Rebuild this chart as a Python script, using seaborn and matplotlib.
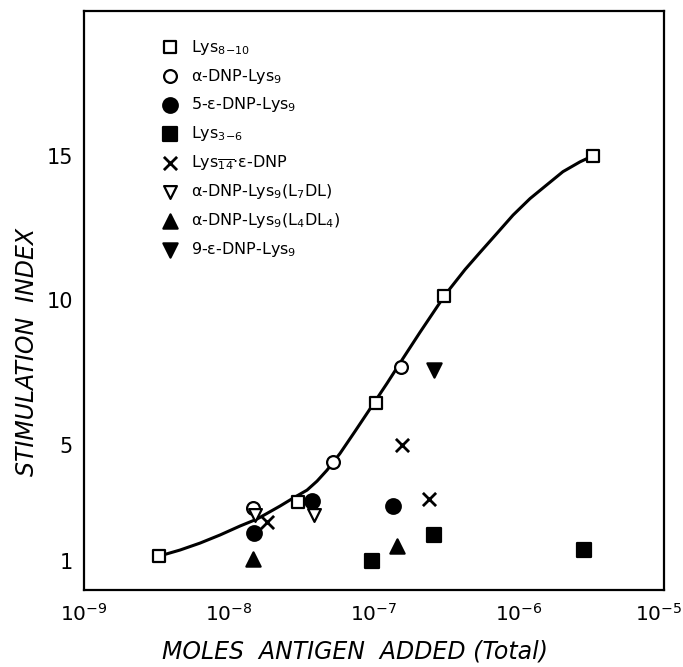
import matplotlib
matplotlib.use("Agg")
import matplotlib.pyplot as plt
import matplotlib.transforms as mtransforms
import seaborn as sns
from matplotlib.ticker import FixedLocator, NullLocator, FixedFormatter

# ---- data ----
lys810_x = [3.29e-9, 2.99e-8, 1.03e-7, 3.04e-7, 3.24e-6]
lys810_y = [1.17, 3.03, 6.45, 10.14, 15.0]

adnp_x = [1.47e-8, 5.2e-8, 1.53e-7]
adnp_y = [2.83, 4.41, 7.69]

e5dnp_x = [1.48e-8, 3.73e-8, 1.35e-7]
e5dnp_y = [1.97, 3.07, 2.90]

lys36_x = [9.7e-8, 2.6e-7, 2.81e-6]
lys36_y = [1.0, 1.90, 1.38]

lys14_x = [1.83e-8, 1.56e-7, 2.39e-7]
lys14_y = [2.34, 5.0, 3.14]

l7dl_x = [1.51e-8, 3.85e-8]
l7dl_y = [2.59, 2.59]

l4dl4_x = [1.47e-8, 1.44e-7]
l4dl4_y = [1.07, 1.52]

e9dnp_x = [2.6e-7]
e9dnp_y = [7.59]

# hand-drawn curve, points traced along it (log10 of moles, index)
curve_logx = [-8.483, -8.338, -8.200, -8.062, -7.924, -7.807, -7.648, -7.559,
              -7.462, -7.393, -7.324, -7.234, -7.131, -7.007, -6.910, -6.800,
              -6.683, -6.545, -6.476, -6.372, -6.269, -6.152, -6.041, -5.924,
              -5.807, -5.697, -5.579, -5.490]
curve_y = [1.17, 1.38, 1.62, 1.90, 2.21, 2.45, 2.90, 3.17, 3.45, 3.76, 4.14,
           4.72, 5.48, 6.41, 7.14, 8.00, 8.90, 9.93, 10.41, 11.07, 11.66,
           12.32, 12.95, 13.52, 14.00, 14.45, 14.79, 15.0]

xtick_vals = [1e-9, 1e-8, 1e-7, 1e-6, 1e-5]
xtick_labels = [r"$10^{-9}$", r"$10^{-8}$", r"$10^{-7}$", r"$10^{-6}$", r"$10^{-5}$"]
ytick_vals = [1, 5, 10, 15]
ytick_labels = ["1", "5", "10", "15"]

labels = [r"Lys$_{8\mathrm{-}10}$", r"$\alpha$-DNP-Lys$_9$", r"5-$\epsilon$-DNP-Lys$_9$",
          r"Lys$_{3\mathrm{-}6}$", r"Lys$_{\overline{14}}$$\cdot\epsilon$-DNP",
          r"$\alpha$-DNP-Lys$_9$(L$_7$DL)", r"$\alpha$-DNP-Lys$_9$(L$_4$DL$_4$)",
          r"9-$\epsilon$-DNP-Lys$_9$"]

# ---- plotting ----
sns.set_style("white")
plt.rcParams["font.family"] = ["DejaVu Sans"]
plt.rcParams["mathtext.default"] = "regular"
plt.rcParams["text.color"] = "black"
plt.rcParams["axes.labelcolor"] = "black"
plt.rcParams["xtick.color"] = "black"
plt.rcParams["ytick.color"] = "black"

fig = plt.figure(figsize=(6.83, 6.67), dpi=100)
ax = fig.add_axes([84 / 683, 77 / 667, 580 / 683, 579 / 667])

sns.lineplot(x=[10 ** v for v in curve_logx], y=curve_y, sort=False, estimator=None,
             color="black", linewidth=2.2, ax=ax, legend=False)

series = [
    (lys810_x, lys810_y, "s", "white", 80),
    (adnp_x, adnp_y, "o", "white", 85),
    (e5dnp_x, e5dnp_y, "o", "black", 110),
    (lys36_x, lys36_y, "s", "black", 95),
    (lys14_x, lys14_y, "x", "black", 90),
    (l7dl_x, l7dl_y, "v", "white", 85),
    (l4dl4_x, l4dl4_y, "^", "black", 105),
    (e9dnp_x, e9dnp_y, "v", "black", 105),
]
for (xs, ys, m, fc, s), lab in zip(series, labels):
    if m == "x":
        sns.scatterplot(x=xs, y=ys, marker=m, s=s, color="black", linewidth=2.0,
                        ax=ax, label=lab, zorder=3)
    else:
        sns.scatterplot(x=xs, y=ys, marker=m, s=s, facecolor=fc, edgecolor="black",
                        linewidth=1.6, ax=ax, label=lab, zorder=3)

ax.set_xscale("log")
ax.set_xlim(1e-9, 1e-5)
ax.set_ylim(0, 20)
ax.xaxis.set_major_locator(FixedLocator(xtick_vals))
ax.xaxis.set_major_formatter(FixedFormatter(xtick_labels))
ax.xaxis.set_minor_locator(NullLocator())
ax.yaxis.set_major_locator(FixedLocator(ytick_vals))
ax.yaxis.set_major_formatter(FixedFormatter(ytick_labels))
ax.tick_params(axis="both", direction="in", length=14, width=1.5, labelsize=15,
               colors="black")
ax.tick_params(axis="x", pad=9, labelsize=14.5)
ax.tick_params(axis="y", pad=8)
for sp in ax.spines.values():
    sp.set_visible(True)
    sp.set_linewidth(1.6)
    sp.set_color("black")
ax.set_xlabel("")
ax.set_ylabel("")

# nudge the last x tick label slightly left so it stays inside the canvas
fig.canvas.draw()
last = ax.get_xticklabels()[-1]
last.set_transform(last.get_transform() +
                   mtransforms.ScaledTranslation(-4 / 72, 0, fig.dpi_scale_trans))

fig.text(355 / 683, 1 - 651 / 667, "MOLES  ANTIGEN  ADDED (Total)", ha="center",
         va="center", fontsize=17, style="italic", color="black")
fig.text(27 / 683, 1 - 352 / 667, "STIMULATION  INDEX", ha="center", va="center",
         rotation=90, fontsize=17, style="italic", color="black")

leg = ax.legend(loc="upper left", bbox_to_anchor=(0.124, 0.965), frameon=False,
                fontsize=11.5, handletextpad=0.8, labelspacing=0.62,
                borderaxespad=0, handlelength=1.0, labelcolor="black")

fig.savefig("out.png", dpi=100)
